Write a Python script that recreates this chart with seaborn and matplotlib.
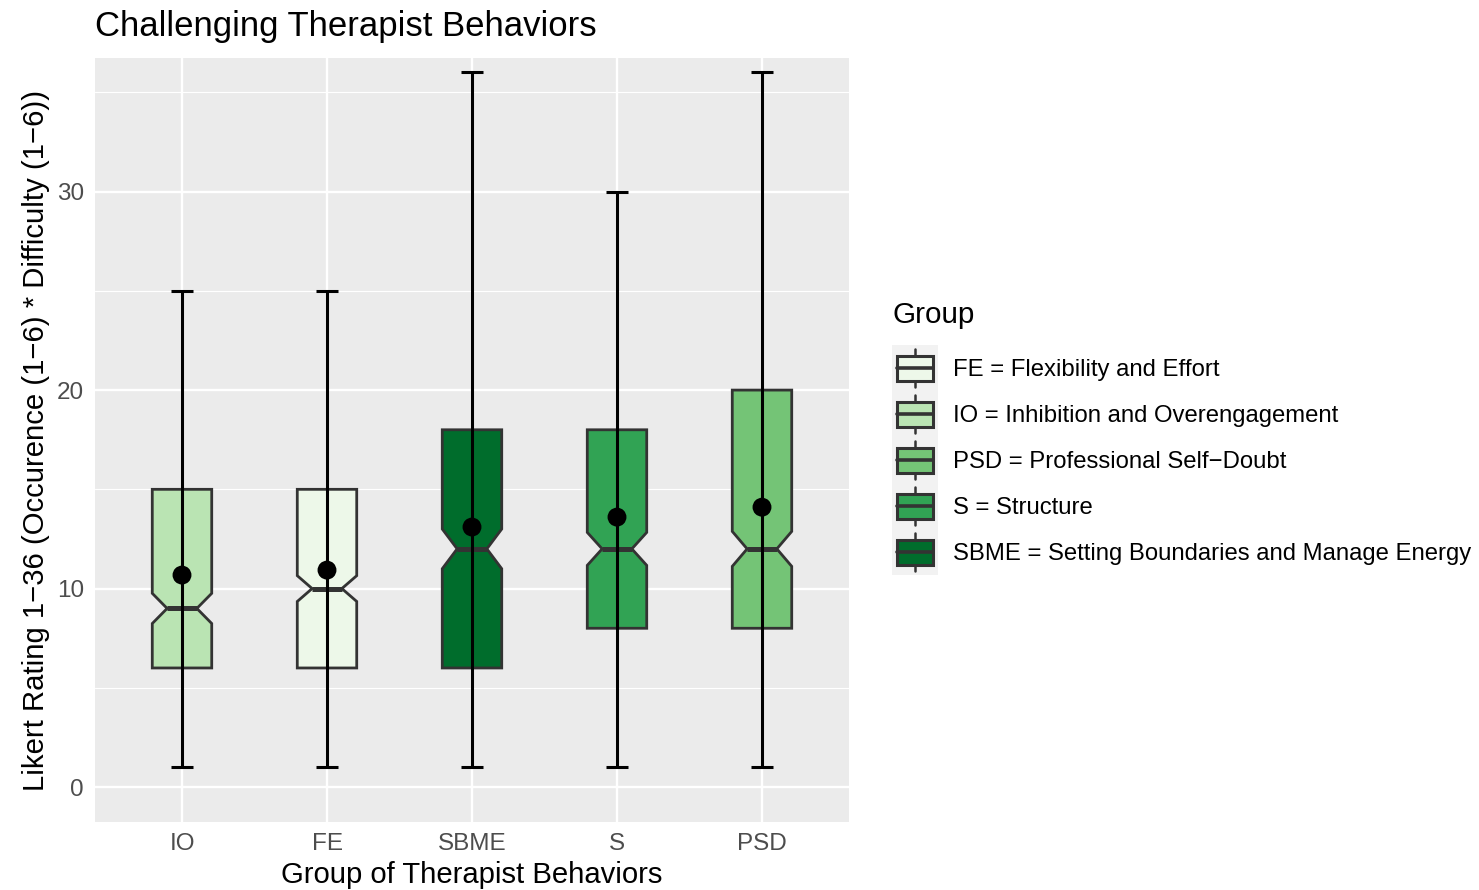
import numpy as np
import matplotlib
matplotlib.use("Agg")
import matplotlib.pyplot as plt
import seaborn as sns
from matplotlib.patches import Rectangle, Patch
from matplotlib.lines import Line2D
from matplotlib.legend_handler import HandlerBase
from matplotlib.ticker import FixedLocator

# Summary statistics per behaviour group (Likert rating 1-36)
groups = ["IO", "FE", "SBME", "S", "PSD"]
q1 = [6, 6, 6, 8, 8]
medians = [9, 10, 12, 12, 12]
q3 = [15, 15, 18, 18, 20]
lows = [1, 1, 1, 1, 1]
highs = [25, 25, 36, 30, 36]
means = [10.68, 10.93, 13.1, 13.6, 14.1]
notch_half = [0.76, 0.65, 1.0, 0.83, 0.88]

legend_groups = ["FE", "IO", "PSD", "S", "SBME"]
legend_labels = [
    "FE = Flexibility and Effort",
    "IO = Inhibition and Overengagement",
    "PSD = Professional Self\u2212Doubt",
    "S = Structure",
    "SBME = Setting Boundaries and Manage Energy",
]
greens = ["#EDF8E9", "#BAE4B3", "#74C476", "#31A354", "#006D2C"]
group_color = dict(zip(legend_groups, greens))

sns.set_theme(style="darkgrid", rc={
    "axes.facecolor": "#EBEBEB",
    "grid.color": "white",
    "axes.edgecolor": "none",
    "text.color": "black",
    "axes.labelcolor": "black",
})
plt.rcParams["font.family"] = ["Liberation Sans", "DejaVu Sans"]

W, H = 1479, 890
fig = plt.figure(figsize=(W / 100, H / 100), dpi=100)
fig.patch.set_facecolor("white")
ax = fig.add_axes([95 / W, 1 - 822 / H, 754 / W, 764 / H])

pos = np.arange(len(groups))
stats = []
for g, a, m, b, n, mu in zip(groups, q1, medians, q3, notch_half, means):
    stats.append(dict(label=g, q1=a, med=m, q3=b, whislo=a, whishi=b,
                      cilo=m - n, cihi=m + n, mean=mu, fliers=[]))

edge = "#333333"
bp = ax.bxp(stats, positions=pos, widths=0.41, shownotches=True,
            showcaps=False, showfliers=False, patch_artist=True,
            boxprops=dict(edgecolor=edge, linewidth=2.0),
            medianprops=dict(color=edge, linewidth=3.6, solid_capstyle="butt"),
            whiskerprops=dict(linewidth=0), zorder=2)
for patch, g in zip(bp["boxes"], groups):
    patch.set_facecolor(group_color[g])

# range bars from minimum to maximum
ax.errorbar(pos, lows, yerr=[np.zeros(len(groups)), np.subtract(highs, lows)],
            fmt="none", ecolor="black", elinewidth=2.2, capsize=7.9,
            capthick=2.2, zorder=3)

# group means
sns.scatterplot(x=pos, y=means, color="black", s=185, edgecolor="none",
                ax=ax, zorder=4, legend=False)

ax.set_xlim(-0.6, len(groups) - 0.4)
ax.set_ylim(-1.76, 36.73)
ax.set_xticks(pos)
ax.set_xticklabels(groups)
ax.set_yticks([0, 10, 20, 30])
ax.yaxis.set_minor_locator(FixedLocator([5, 15, 25, 35]))
ax.set_axisbelow(True)
ax.grid(which="major", color="white", linewidth=1.7)
ax.grid(which="minor", axis="y", color="white", linewidth=0.85)
ax.grid(which="minor", axis="x", visible=False)
for s in ax.spines.values():
    s.set_visible(False)
ax.tick_params(axis="both", which="major", length=5, width=1.5, color=edge,
               labelcolor="#4D4D4D", labelsize=17.5, pad=3)
ax.tick_params(which="minor", length=0)

ax.set_xlabel("Group of Therapist Behaviors", fontsize=21.1, color="black", labelpad=4)
ax.set_ylabel("Likert Rating 1\u221236 (Occurence (1\u22126) * Difficulty (1\u22126))",
              fontsize=21.1, color="black", labelpad=5)
fig.text(95 / W, 1 - 36 / H, "Challenging Therapist Behaviors",
         fontsize=25, ha="left", va="baseline", color="black")


class BoxKey(HandlerBase):
    def create_artists(self, legend, orig_handle, xdescent, ydescent,
                       width, height, fontsize, trans):
        x0, y0 = -xdescent, -ydescent
        bg = Rectangle((x0, y0), width, height, facecolor="#F2F2F2",
                       edgecolor="none", transform=trans)
        bw, bh = width * 36 / 46, height * 25 / 46
        cx, cy = x0 + width / 2, y0 + height / 2
        box = Rectangle((cx - bw / 2, cy - bh / 2), bw, bh,
                        facecolor=orig_handle.get_facecolor(), edgecolor=edge,
                        linewidth=2.2, transform=trans)
        med = Line2D([cx - bw / 2, cx + bw / 2], [cy, cy], color=edge,
                     linewidth=2.6, transform=trans)
        wlo = Line2D([cx, cx], [y0 + height * 4 / 46, cy - bh / 2], color=edge,
                     linewidth=1.8, transform=trans)
        whi = Line2D([cx, cx], [cy + bh / 2, y0 + height * 42 / 46], color=edge,
                     linewidth=1.8, transform=trans)
        return [bg, wlo, whi, box, med]


handles = [Patch(facecolor=group_color[g]) for g in legend_groups]
fs = 17.2
key_pt = 46 * 0.72
# legend box height = fontsize*h - 0.35*fontsize*(h-0.7)
key_h = (key_pt / fs - 0.245) / 0.65
key_w = key_pt / fs
leg = fig.legend(handles, legend_labels, handler_map={Patch: BoxKey()},
                 loc="center left", bbox_to_anchor=(892 / W, 1 - 438 / H),
                 frameon=False, fontsize=fs, title="Group", title_fontsize=21.3,
                 handlelength=key_w, handleheight=key_h, labelspacing=0,
                 handletextpad=0.62, borderpad=0, borderaxespad=0,
                 labelcolor="black")
leg.get_title().set_color("black")
leg._legend_box.align = "left"
leg._legend_box.sep = 12

fig.savefig("out.png", dpi=100)
